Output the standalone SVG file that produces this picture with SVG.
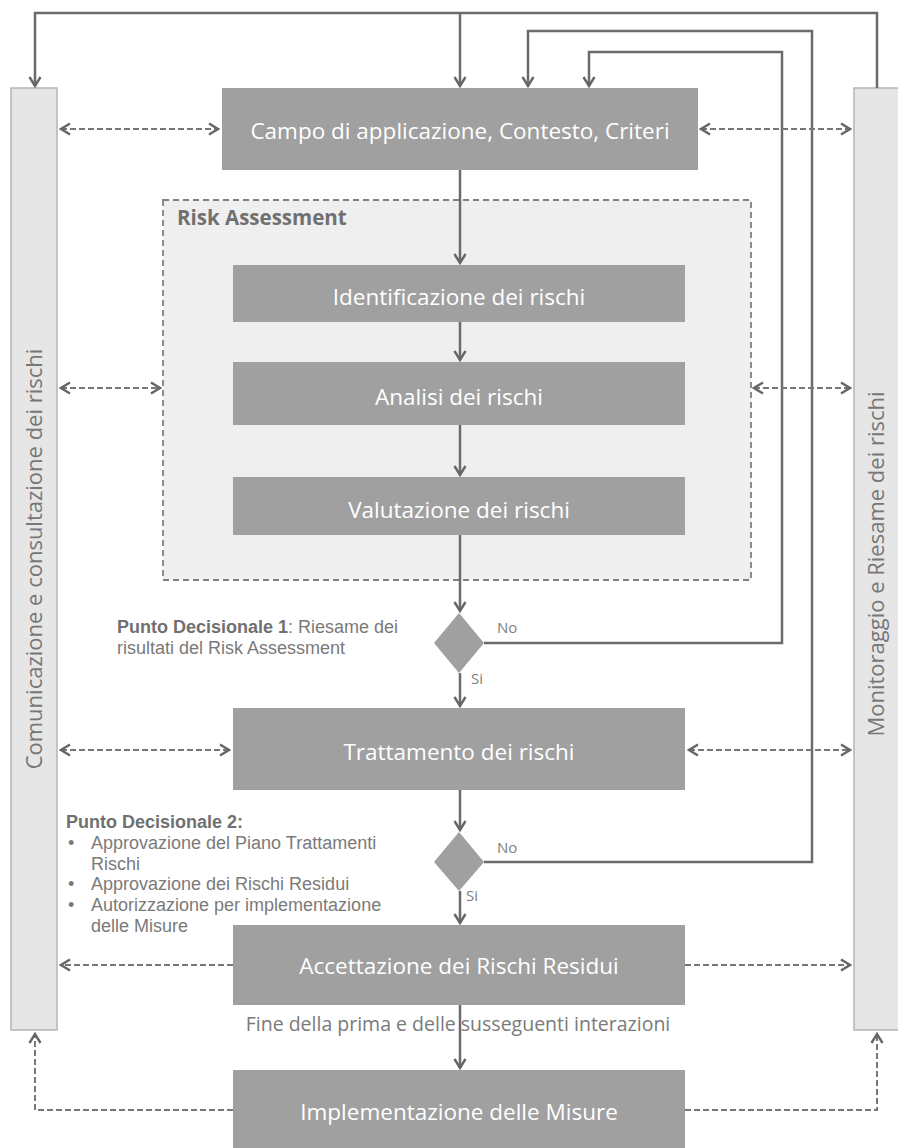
<svg xmlns="http://www.w3.org/2000/svg" width="898" height="1148" viewBox="0 0 898 1148">
<defs>
<marker id="arr" viewBox="0 0 14 14" refX="12" refY="7" markerWidth="14" markerHeight="14" markerUnits="userSpaceOnUse" orient="auto-start-reverse">
<path d="M3,1.5 L12,7 L3,12.5" fill="none" stroke="#666" stroke-width="2.4"/>
</marker>
<style>
.box{fill:#a0a0a0;}
.bar{fill:#e6e6e6;stroke:#b4b4b4;stroke-width:1.5;}
.bt{font-family:"Open Sans","Liberation Sans",sans-serif;font-size:22.5px;fill:#ffffff;text-anchor:middle;}
.vt{font-family:"Open Sans","Liberation Sans",sans-serif;font-size:22px;fill:#777777;text-anchor:middle;}
.lt{font-family:"Liberation Sans",Arial,sans-serif;font-size:18px;fill:#7a7a7a;}
.os{font-family:"Open Sans","Liberation Sans",sans-serif;fill:#7a7a7a;}
.sm{font-family:"Open Sans","Liberation Sans",sans-serif;font-size:15px;fill:#808080;}
.b{font-weight:bold;fill:#707070;}
.ln{fill:none;stroke:#6b6b6b;stroke-width:2.5;}
.ds{fill:none;stroke:#777;stroke-width:2;stroke-dasharray:6,3;}
</style>
</defs>

<g id="bar-left"><rect class="bar" x="11" y="88" width="46" height="942"/><text class="vt" transform="translate(42,559) rotate(-90)">Comunicazione e consultazione dei rischi</text></g>
<g id="bar-right"><rect class="bar" x="854" y="88" width="46" height="942"/><text class="vt" transform="translate(884,564) rotate(-90)">Monitoraggio e Riesame dei rischi</text></g>

<g id="risk-assessment"><rect x="163" y="200" width="588" height="380" fill="#efefef" stroke="#808080" stroke-width="1.8" stroke-dasharray="6,4"/><text class="os b" x="177" y="225" style="font-size:20.5px">Risk Assessment</text></g>

<g id="campo"><rect class="box" x="222" y="88" width="476" height="82" fill="#9c9c9c"/><text class="bt" x="460" y="139">Campo di applicazione, Contesto, Criteri</text></g>
<g id="identificazione"><rect class="box" x="233" y="265" width="452" height="57" fill="#a8a8a8"/><text class="bt" x="459" y="305">Identificazione dei rischi</text></g>
<g id="analisi"><rect class="box" x="233" y="362" width="452" height="63" fill="#a8a8a8"/><text class="bt" x="459" y="405">Analisi dei rischi</text></g>
<g id="valutazione"><rect class="box" x="233" y="477" width="452" height="58" fill="#a8a8a8"/><text class="bt" x="459" y="518">Valutazione dei rischi</text></g>
<g id="decisione1"><polygon points="459,613 484,643 459,673 434,643" fill="#a0a0a0"/></g>
<g id="trattamento"><rect class="box" x="233" y="708" width="452" height="82" fill="#9e9e9e"/><text class="bt" x="459" y="760">Trattamento dei rischi</text></g>
<g id="decisione2"><polygon points="459,832 484,862 459,891 434,862" fill="#a0a0a0"/></g>
<g id="accettazione"><rect class="box" x="233" y="925" width="452" height="80" fill="#9e9e9e"/><text class="bt" x="459" y="974">Accettazione dei Rischi Residui</text></g>
<g id="implementazione"><rect class="box" x="233" y="1070" width="452" height="80" fill="#9e9e9e"/><text class="bt" x="459" y="1120">Implementazione delle Misure</text></g>

<g id="labels">
<text class="lt" x="117" y="633"><tspan class="b">Punto Decisionale 1</tspan>: Riesame dei</text>
<text class="lt" x="117" y="654">risultati del Risk Assessment</text>
<text class="sm" x="497" y="633">No</text>
<text class="sm" x="471" y="684">Si</text>
<text class="lt b" x="66" y="828">Punto Decisionale 2:</text>
<text class="lt" x="68" y="849">•</text><text class="lt" x="91" y="849">Approvazione del Piano Trattamenti</text>
<text class="lt" x="91" y="869.5">Rischi</text>
<text class="lt" x="68" y="890">•</text><text class="lt" x="91" y="890">Approvazione dei Rischi Residui</text>
<text class="lt" x="68" y="911">•</text><text class="lt" x="91" y="911">Autorizzazione per implementazione</text>
<text class="lt" x="91" y="931.5">delle Misure</text>
<text class="sm" x="497" y="853">No</text>
<text class="sm" x="466" y="901">Si</text>
<text class="os" x="458" y="1031" text-anchor="middle" style="font-size:19.5px">Fine della prima e delle susseguenti interazioni</text>
</g>

<g id="connectors">
<path class="ln" d="M877,88 V13 H35 V86" marker-end="url(#arr)"/>
<path class="ln" d="M460,13 V86" marker-end="url(#arr)"/>
<path class="ln" d="M484,862 H812 V31 H528 V86" marker-end="url(#arr)"/>
<path class="ln" d="M484,643 H782 V52 H589 V86" marker-end="url(#arr)"/>
<path class="ln" d="M460,170 V263" marker-end="url(#arr)"/>
<path class="ln" d="M460,322 V360" marker-end="url(#arr)"/>
<path class="ln" d="M460,425 V475" marker-end="url(#arr)"/>
<path class="ln" d="M460,535 V611" marker-end="url(#arr)"/>
<path class="ln" d="M460,673 V706" marker-end="url(#arr)"/>
<path class="ln" d="M460,790 V830" marker-end="url(#arr)"/>
<path class="ln" d="M460,891 V923" marker-end="url(#arr)"/>
<path class="ln" d="M460,1005 V1068" marker-end="url(#arr)"/>
<path class="ds" d="M61,129 H218" marker-start="url(#arr)" marker-end="url(#arr)"/>
<path class="ds" d="M701,129 H850" marker-start="url(#arr)" marker-end="url(#arr)"/>
<path class="ds" d="M61,388 H160" marker-start="url(#arr)" marker-end="url(#arr)"/>
<path class="ds" d="M754,388 H850" marker-start="url(#arr)" marker-end="url(#arr)"/>
<path class="ds" d="M61,750 H229" marker-start="url(#arr)" marker-end="url(#arr)"/>
<path class="ds" d="M689,750 H850" marker-start="url(#arr)" marker-end="url(#arr)"/>
<path class="ds" d="M233,965 H61" marker-end="url(#arr)"/>
<path class="ds" d="M685,965 H850" marker-end="url(#arr)"/>
<path class="ds" d="M233,1110 H35 V1034" marker-end="url(#arr)"/>
<path class="ds" d="M685,1110 H877 V1034" marker-end="url(#arr)"/>
</g>
</svg>
